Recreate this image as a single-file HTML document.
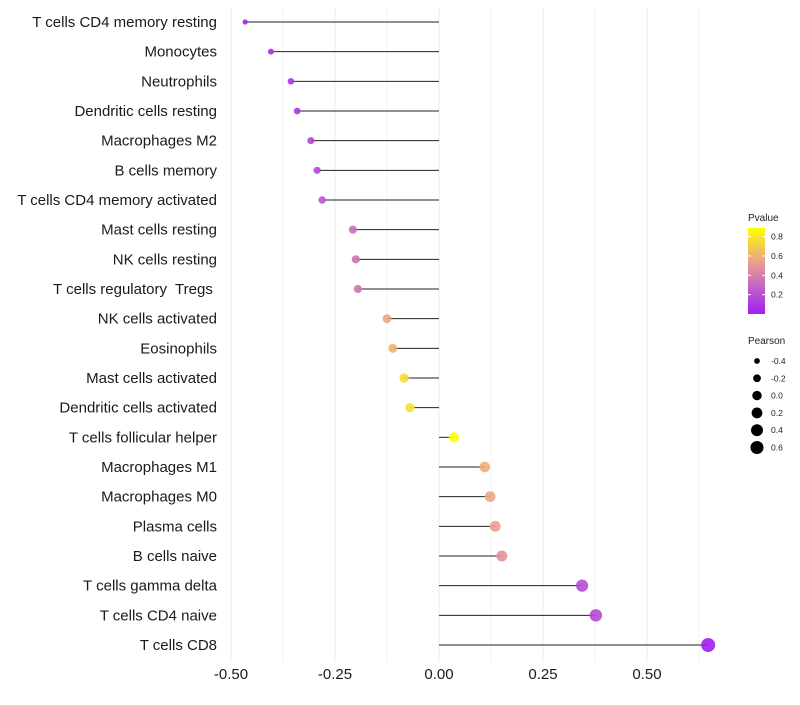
<!DOCTYPE html>
<html><head><meta charset="utf-8"><style>
body{margin:0;background:#fff;font-family:"Liberation Sans",sans-serif;}
text{white-space:pre;}
</style></head><body>
<svg id="chart" width="800" height="700" xmlns="http://www.w3.org/2000/svg">
<defs><linearGradient id="pg" x1="0" y1="1" x2="0" y2="0">
<stop offset="0" stop-color="#A020F0"/><stop offset="0.3" stop-color="#C15FC8"/><stop offset="0.6" stop-color="#E9A08E"/><stop offset="1" stop-color="#FFFF00"/>
</linearGradient></defs>
<g id="grid"></g>
<g id="marks"></g>
<g id="ylab"></g>
<g id="xlab"></g>
<g>
<text x="748" y="221" font-size="10" fill="#222">Pvalue</text>
<rect x="748" y="228" width="17" height="86" fill="url(#pg)"/>
<g id="cbticks"></g>
</g>
<g id="sizeleg">
<text x="748" y="344" font-size="10" fill="#222">Pearson</text>
</g>
</svg>
<script>
const categories=["T cells CD4 memory resting","Monocytes","Neutrophils","Dendritic cells resting","Macrophages M2","B cells memory","T cells CD4 memory activated","Mast cells resting","NK cells resting","T cells regulatory  Tregs ","NK cells activated","Eosinophils","Mast cells activated","Dendritic cells activated","T cells follicular helper","Macrophages M1","Macrophages M0","Plasma cells","B cells naive","T cells gamma delta","T cells CD4 naive","T cells CD8"];
const pearson=[-0.466,-0.404,-0.356,-0.341,-0.308,-0.293,-0.281,-0.207,-0.2,-0.195,-0.125,-0.111,-0.084,-0.07,0.036,0.11,0.123,0.135,0.151,0.344,0.377,0.647];
const pvalue=[0.02,0.06,0.1,0.12,0.17,0.2,0.25,0.37,0.39,0.4,0.62,0.66,0.78,0.8,0.89,0.64,0.62,0.6,0.55,0.22,0.2,0.001];
const xTicks=[-0.5,-0.25,0,0.25,0.5];
const xTickLabels=["-0.50","-0.25","0.00","0.25","0.50"];
const cbTicks=[0.2,0.4,0.6,0.8];
const sizeLegend=[-0.4,-0.2,0,0.2,0.4,0.6];
const NS="http://www.w3.org/2000/svg";
const X=v=>439+v*416;
const Y=i=>22+i*(623/21);
const R=v=>Math.sqrt(Math.max(1,24.4+38*v));
const stops=[[0,[160,32,240]],[0.3,[193,95,200]],[0.6,[233,160,142]],[0.89,[255,255,0]]];
function col(p){p=Math.min(0.89,Math.max(0,p));for(let k=1;k<stops.length;k++){if(p<=stops[k][0]){const a=stops[k-1],b=stops[k],t=(p-a[0])/(b[0]-a[0]);return "rgb("+a[1].map((c,j)=>Math.round(c+(b[1][j]-c)*t)).join(",")+")";}}return "rgb(255,255,0)";}
function mk(t,a,p){const e=document.createElementNS(NS,t);for(const k in a)e.setAttribute(k,a[k]);p.appendChild(e);return e;}
const grid=document.getElementById('grid');
for(let v=-0.5;v<=0.626;v+=0.125){const l=mk('line',{x1:X(v),x2:X(v),y1:8,y2:662,stroke:'#ebebeb','stroke-width':(Math.abs(v*4-Math.round(v*4))<1e-6)?1:0.6},grid);

}
const marks=document.getElementById('marks'),ylab=document.getElementById('ylab');
categories.forEach((c,i)=>{
const ln=mk('line',{x1:X(0),x2:X(pearson[i]),y1:Y(i),y2:Y(i),stroke:'#222','stroke-width':1},marks);


const ci=mk('circle',{cx:X(pearson[i]),cy:Y(i),r:R(pearson[i]),fill:col(pvalue[i]),'fill-opacity':0.9},marks);


const t=mk('text',{x:217,y:Y(i)+5,'text-anchor':'end','font-size':15,fill:'#1a1a1a','xml:space':'preserve'},ylab);t.textContent=c;


});
const xl=document.getElementById('xlab');
xTicks.forEach((v,i)=>{const t=mk('text',{x:X(v),y:679,'text-anchor':'middle','font-size':15,fill:'#1a1a1a'},xl);t.textContent=xTickLabels[i];

});
const cb=document.getElementById('cbticks');
cbTicks.forEach(v=>{const y=314-v*96.7;mk('line',{x1:748,x2:751,y1:y,y2:y,stroke:'#fff'},cb);mk('line',{x1:762,x2:765,y1:y,y2:y,stroke:'#fff'},cb);
const t=mk('text',{x:771,y:y+3,'font-size':8.5,fill:'#222'},cb);t.textContent=v.toFixed(1);

});
const sl=document.getElementById('sizeleg');
sizeLegend.forEach((v,i)=>{const y=361+i*17.3;const c=mk('circle',{cx:757,cy:y,r:R(v)*0.95,fill:'#000'},sl);


const t=mk('text',{x:771,y:y+3,'font-size':8.5,fill:'#222'},sl);t.textContent=v.toFixed(1);

});
</script>
</body></html>
